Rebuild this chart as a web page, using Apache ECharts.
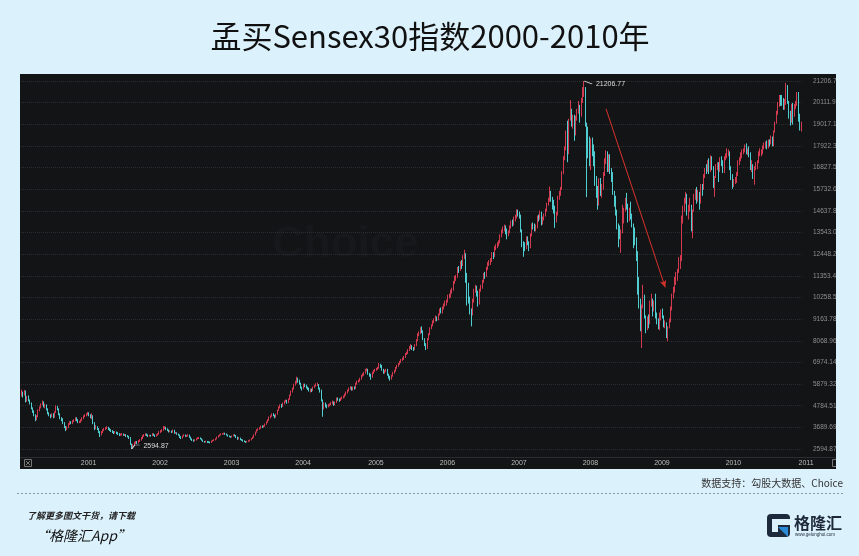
<!DOCTYPE html>
<html><head><meta charset="utf-8">
<script src="https://cdn.jsdelivr.net/npm/echarts@6/dist/echarts.min.js"></script>
<style>html,body{margin:0;padding:0;background:#dbf1fc;}#c{width:859px;height:556px;}</style>
</head><body><div id="c"></div>
<script>
// Weekly candles [open, close, low, high]
const d2000 = [[5300,5450,5250,5600],[5450,5350,5200,5500],[5350,5500,5300,5580],[5500,5000,4950,5550],[5000,5200,4980,5280],[5200,5050,5000,5300],[5050,4900,4850,5100],[4900,4650,4600,4950],[4650,4500,4420,4700],[4500,4300,4250,4550],[4300,4150,4000,4350],[4150,4250,4050,4300],[4250,4550,4200,4600],[4550,4700,4500,4750],[4700,4850,4650,4900],[4850,4950,4800,5050],[4950,4750,4700,5000],[4750,4800,4650,4880],[4800,4600,4550,4850],[4600,4400,4350,4650],[4400,4300,4250,4450],[4300,4250,4150,4350],[4250,4350,4200,4400],[4350,4200,4150,4400],[4200,4450,4180,4500],[4450,4700,4420,4800],[4700,4600,4550,4780],[4600,4350,4300,4650],[4350,4150,4100,4400],[4150,4100,4000,4200],[4100,3900,3850,4150],[3900,3700,3650,3950],[3700,3600,3500,3750],[3600,3700,3550,3750],[3700,3850,3650,3900],[3850,3950,3800,4000],[3950,3900,3850,4000],[3900,4000,3850,4050],[4000,4050,3950,4100],[4050,4150,4000,4200],[4150,4050,4000,4200],[4050,3950,3900,4100],[3950,3970,3900,4020]];
const d2001 = [[3970,4050,3920,4100],[4050,4150,4000,4200],[4150,4250,4100,4300],[4250,4300,4200,4350],[4300,4350,4250,4400],[4350,4400,4300,4470],[4400,4300,4250,4450],[4300,4200,4150,4350],[4200,4250,4100,4400],[4250,3900,3850,4300],[3900,3650,3550,3950],[3650,3700,3600,3800],[3700,3600,3550,3750],[3600,3450,3400,3650],[3450,3300,3200,3500],[3300,3450,3280,3500],[3450,3550,3400,3600],[3550,3600,3500,3650],[3600,3650,3550,3700],[3650,3700,3600,3750],[3700,3600,3550,3720],[3600,3550,3500,3650],[3550,3500,3450,3600],[3500,3450,3400,3550],[3450,3400,3350,3500],[3400,3450,3380,3500],[3450,3400,3350,3480],[3400,3350,3300,3450],[3350,3300,3250,3400],[3300,3320,3260,3380],[3320,3350,3280,3400],[3350,3300,3260,3380],[3300,3320,3250,3360],[3320,3250,3200,3350],[3250,3220,3180,3300],[3220,3150,3100,3260],[3150,2850,2800,3200],[2850,2650,2594.87,2870],[2650,2800,2620,2850],[2800,2900,2760,2950],[2900,2950,2850,3000],[2950,2900,2850,3000],[2900,3000,2880,3050],[3000,3050,2950,3100],[3050,3150,3020,3200],[3150,3250,3100,3300],[3250,3300,3200,3350],[3300,3350,3250,3400],[3350,3300,3250,3380],[3300,3250,3200,3330],[3250,3280,3220,3320],[3280,3260,3220,3310]];
const d2002 = [[3260,3350,3240,3400],[3350,3300,3260,3380],[3300,3250,3200,3330],[3250,3300,3220,3340],[3300,3350,3270,3400],[3350,3450,3320,3500],[3450,3500,3400,3550],[3500,3550,3450,3600],[3550,3650,3520,3760],[3650,3700,3600,3750],[3700,3600,3550,3720],[3600,3550,3500,3640],[3550,3470,3430,3580],[3470,3500,3440,3540],[3500,3450,3400,3530],[3450,3550,3420,3580],[3550,3400,3370,3570],[3400,3420,3360,3460],[3420,3350,3310,3440],[3350,3300,3260,3380],[3300,3200,3150,3330],[3200,3150,3100,3240],[3150,3250,3120,3280],[3250,3300,3220,3340],[3300,3250,3210,3330],[3250,3250,3200,3300],[3250,3300,3220,3340],[3300,3200,3160,3320],[3200,3100,3060,3220],[3100,3050,3000,3130],[3050,3000,2960,3080],[3000,3050,2980,3090],[3050,3100,3020,3140],[3100,3150,3080,3190],[3150,3150,3100,3200],[3150,3120,3080,3180],[3120,3050,3020,3140],[3050,2980,2950,3070],[2980,2950,2910,3000],[2950,2980,2920,3020],[2980,2950,2900,3000],[2950,2940,2900,2990],[2940,2920,2880,2970],[2920,2990,2900,3020],[2990,3020,2960,3060],[3020,3050,3000,3090],[3050,3100,3030,3140],[3100,3200,3080,3230],[3200,3250,3170,3290],[3250,3300,3230,3340],[3300,3350,3280,3390],[3350,3370,3320,3400]];
const d2003 = [[3370,3390,3330,3420],[3390,3350,3310,3420],[3350,3300,3270,3380],[3300,3250,3220,3330],[3250,3230,3190,3280],[3230,3200,3160,3250],[3200,3250,3180,3280],[3250,3300,3230,3330],[3300,3280,3230,3340],[3280,3200,3150,3300],[3200,3100,3060,3220],[3100,3150,3080,3190],[3150,3080,3040,3170],[3080,3050,3010,3100],[3050,3000,2960,3080],[3000,2980,2940,3030],[2980,2930,2904,3000],[2930,2980,2920,3010],[2980,3000,2950,3040],[3000,3050,2980,3080],[3050,3120,3030,3150],[3120,3180,3100,3220],[3180,3300,3160,3340],[3300,3450,3280,3480],[3450,3550,3420,3600],[3550,3600,3520,3640],[3600,3650,3570,3700],[3650,3750,3620,3780],[3750,3700,3660,3790],[3700,3750,3680,3800],[3750,3850,3720,3880],[3850,3950,3820,3990],[3950,4050,3920,4100],[4050,4200,4020,4240],[4200,4250,4150,4300],[4250,4350,4220,4400],[4350,4300,4250,4400],[4300,4200,4150,4330],[4200,4350,4180,4380],[4350,4550,4330,4580],[4550,4700,4520,4750],[4700,4800,4650,4850],[4800,4750,4680,4870],[4750,4900,4720,4950],[4900,5000,4860,5050],[5000,5050,4950,5100],[5050,4950,4880,5080],[4950,5100,4920,5150],[5100,5300,5080,5350],[5300,5500,5280,5550],[5500,5650,5450,5700],[5650,5850,5600,5900]];
const d2004 = [[5850,5950,5800,6050],[5950,6150,5900,6250],[6150,6050,5950,6200],[6050,5900,5850,6100],[5900,5700,5650,5950],[5700,5650,5550,5750],[5650,5850,5620,5900],[5850,5800,5720,5900],[5800,5700,5650,5850],[5700,5650,5580,5750],[5650,5550,5500,5700],[5550,5600,5450,5650],[5600,5550,5480,5650],[5550,5700,5520,5750],[5700,5800,5680,5850],[5800,5850,5750,5920],[5850,5850,5780,5950],[5850,5650,5600,5880],[5650,5550,5450,5700],[5550,5050,5000,5600],[5050,4800,4227,5100],[4800,4850,4600,4950],[4850,4800,4700,4950],[4800,4750,4650,4850],[4750,4800,4700,4880],[4800,4850,4750,4900],[4850,4900,4800,4980],[4900,4950,4850,5050],[4950,4850,4780,5000],[4850,4950,4800,5000],[4950,5150,4920,5200],[5150,5100,5030,5200],[5100,5050,4980,5150],[5050,5150,5020,5200],[5150,5200,5100,5250],[5200,5250,5150,5300],[5250,5350,5200,5400],[5350,5450,5300,5500],[5450,5550,5400,5600],[5550,5650,5500,5700],[5650,5700,5600,5780],[5700,5600,5550,5750],[5600,5700,5550,5750],[5700,5650,5600,5760],[5650,5900,5630,5950],[5900,6000,5850,6050],[6000,6050,5950,6100],[6050,6150,6000,6200],[6150,6300,6100,6350],[6300,6350,6250,6420],[6350,6450,6300,6500],[6450,6600,6400,6650],[6600,6600,6520,6680]];
const d2005 = [[6600,6400,6350,6650],[6400,6350,6250,6450],[6350,6250,6100,6400],[6250,6450,6200,6500],[6450,6550,6400,6600],[6550,6600,6500,6650],[6600,6650,6550,6700],[6650,6700,6600,6750],[6700,6850,6650,6950],[6850,6800,6700,6900],[6800,6600,6550,6850],[6600,6450,6400,6650],[6450,6550,6400,6600],[6550,6600,6480,6650],[6600,6350,6300,6650],[6350,6250,6150,6400],[6250,6150,6050,6300],[6150,6300,6100,6350],[6300,6450,6250,6500],[6450,6550,6400,6600],[6550,6700,6500,6750],[6700,6800,6650,6850],[6800,6900,6750,6950],[6900,7000,6850,7050],[7000,7100,6950,7150],[7100,7150,7050,7220],[7150,7250,7100,7300],[7250,7400,7200,7450],[7400,7450,7350,7520],[7450,7600,7400,7650],[7600,7750,7550,7800],[7750,7800,7650,7900],[7800,7700,7600,7850],[7700,7650,7550,7750],[7650,7850,7600,7900],[7850,8100,7800,8150],[8100,8400,8050,8450],[8400,8450,8300,8550],[8450,8650,8400,8750],[8650,8550,8450,8800],[8550,8150,8100,8600],[8150,7900,7800,8200],[7900,7700,7600,7950],[7700,8150,7650,8200],[8150,8400,8100,8450],[8400,8700,8350,8750],[8700,8850,8650,8900],[8850,9000,8800,9100],[9000,9100,8950,9200],[9100,9250,9050,9350],[9250,9150,9050,9300],[9150,9400,9100,9450]];
const d2006 = [[9400,9650,9350,9700],[9650,9550,9450,9750],[9550,9700,9450,9800],[9700,9900,9650,9950],[9900,9950,9800,10100],[9950,10050,9850,10150],[10050,10300,10000,10400],[10300,10350,10200,10450],[10350,10550,10250,10650],[10550,10650,10450,10750],[10650,11000,10600,11100],[11000,11250,10950,11350],[11250,11300,11100,11400],[11300,11700,11250,11800],[11700,11650,11500,11850],[11650,12000,11600,12100],[12000,11900,11700,12150],[11900,12300,11850,12400],[12300,12450,12200,12671],[12450,11400,11000,12500],[11400,10800,9850,11500],[10800,10100,9950,11000],[10100,9550,9400,10300],[9550,9400,8799,9700],[9400,10050,9350,10200],[10050,10600,10000,10700],[10600,10750,10500,10900],[10750,10500,10300,10850],[10500,9950,9800,10600],[9950,10650,9900,10700],[10650,10800,10550,10900],[10800,11050,10700,11150],[11050,11400,11000,11500],[11400,11350,11200,11550],[11350,11700,11300,11800],[11700,11950,11650,12050],[11950,12050,11850,12150],[12050,12100,11900,12250],[12100,12450,12050,12550],[12450,12350,12200,12550],[12350,12750,12300,12850],[12750,12850,12650,12950],[12850,12950,12750,13050],[12950,13050,12850,13150],[13050,13350,13000,13450],[13350,13550,13300,13700],[13550,13750,13500,13850],[13750,13800,13600,13950],[13800,13650,13450,13900],[13650,13400,13200,13750],[13400,13550,13350,13650],[13550,13800,13500,13900]];
const d2007 = [[13800,14050,13750,14150],[14050,14000,13850,14200],[14000,14200,13900,14350],[14200,14300,14100,14450],[14300,14650,14250,14724],[14650,14450,14350,14700],[14450,14400,14250,14600],[14400,13650,13550,14450],[13650,12900,12800,13700],[12900,12850,12316,13100],[12850,12750,12600,13050],[12750,13250,12700,13350],[13250,13050,12900,13350],[13050,12800,12600,13100],[12800,13400,12750,13500],[13400,13900,13350,14000],[13900,13850,13700,14050],[13850,13750,13600,14000],[13750,13800,13600,13950],[13800,14300,13750,14400],[14300,14250,14100,14450],[14250,14550,14200,14650],[14550,14000,13900,14600],[14000,14250,13950,14350],[14250,14400,14150,14500],[14400,14650,14350,14750],[14650,14950,14600,15050],[14950,15200,14900,15300],[15200,15550,15100,15868],[15550,15250,15100,15650],[15250,14900,14700,15350],[14900,14850,14500,15200],[14850,14150,13779,14900],[14150,14450,14050,14600],[14450,15300,14400,15400],[15300,15550,15200,15650],[15550,15750,15400,15850],[15750,16550,15700,16650],[16550,17300,16500,17400],[17300,17800,17200,17900],[17800,18400,17700,18700],[18400,17550,17100,19200],[17550,19250,17500,19300],[19250,19700,19200,20238],[19700,19050,18900,19800],[19050,19400,18800,19500],[19400,18500,18182,19500],[18500,19350,18450,19450],[19350,19650,19200,19800],[19650,19950,19550,20200],[19950,19450,19100,20000],[19450,20200,19400,20350]];
const d2008 = [[20200,20650,20100,20900],[20650,20800,20400,21206.77],[20800,19000,18900,20900],[19000,18350,15332,19100],[18350,18250,17300,18900],[18250,17100,16900,18400],[17100,18100,16700,18300],[18100,17800,17400,18350],[17800,17580,16900,18000],[17580,16150,15900,17650],[16150,15800,15300,16400],[15800,14950,14700,15900],[14950,16100,14900,16300],[16100,15600,15400,16300],[15600,15800,15300,16000],[15800,16500,15700,16600],[16500,17100,16400,17300],[17100,17600,17000,17700],[17600,16700,16600,17650],[16700,17450,16600,17500],[17450,16650,16500,17500],[16650,16400,16100,16800],[16400,15550,15450,16600],[15550,15200,14850,15650],[15200,14550,14400,15400],[14550,13800,13700,14700],[13800,13500,12800,14000],[13500,13450,13200,13900],[13450,13600,12514,13700],[13600,14400,13500,14950],[14400,14650,14000,14800],[14650,15150,14600,15300],[15150,14900,14700,15550],[14900,14400,14050,15000],[14400,14550,14100,14800],[14550,14350,14200,15100],[14350,14000,13800,14500],[14000,13300,12750,14000],[13300,13200,12900,13800],[13200,12500,12100,13300],[12500,10550,10400,12600],[10550,10000,9700,11300],[10000,8700,8550,10200],[8700,9800,7697,9900],[9800,10300,9700,10900],[10300,9300,9200,10400],[9300,8900,8450,9350],[8900,9100,8600,9300],[9100,8950,8700,9400],[8950,10000,8900,10100],[10000,10100,9800,10450],[10100,9350,9300,10200]];
const d2009 = [[9650,9900,9550,10100],[9900,9400,9200,10450],[9400,9050,8900,9500],[9050,8700,8650,9200],[8700,9400,8600,9500],[9400,9450,9100,9650],[9450,9300,9200,9700],[9300,8850,8750,9350],[8850,8900,8700,9100],[8900,8350,8200,9000],[8350,8750,8047,8800],[8750,9050,8700,9200],[9050,9700,9000,9800],[9700,10350,9600,10450],[10350,10600,10200,10800],[10600,11000,10500,11300],[11000,11350,10900,11550],[11350,11400,11100,11700],[11400,12000,11500,12300],[12000,12200,11700,12400],[12200,14250,12100,14400],[14250,14650,14000,14900],[14650,15100,14600,15300],[15100,15450,15000,15600],[15450,14500,14400,15500],[14500,14800,14200,14950],[14800,14900,14600,15300],[14900,13700,13600,14950],[13700,14650,13250,14700],[14650,15400,14600,15500],[15400,15650,15200,15750],[15650,15150,15000,15850],[15150,15500,15100,15700],[15500,15050,14700,15600],[15050,15900,15000,16000],[15900,15700,15400,16000],[15700,16300,15700,16500],[16300,16750,16300,16800],[16750,16700,16500,17000],[16700,17150,16600,17200],[17150,16650,16500,17300],[16650,17250,16600,17450],[17250,16800,16700,17400],[16800,15900,15800,16900],[15900,16350,15350,16400],[16350,16850,16300,17000],[16850,16900,16700,17100],[16900,16650,16100,17100],[16650,17250,16600,17350],[17250,17100,16900,17400],[17100,16600,16550,17200],[16600,17250,16550,17400]];
const d2010 = [[17250,17450,17200,17550],[17450,17550,17300,17800],[17550,17600,17400,17750],[17600,16800,16700,17650],[16800,16350,16200,16900],[16350,15950,15750,16500],[15950,16150,15850,16250],[16150,16200,16000,16350],[16200,16450,16050,16600],[16450,17150,16400,17200],[17150,17200,16950,17350],[17200,17550,17150,17600],[17550,17650,17300,17750],[17650,17700,17500,17800],[17700,17950,17600,18000],[17950,17650,17500,18050],[17650,17700,17450,17800],[17700,17550,17350,17900],[17550,16750,16700,17600],[16750,16950,16600,17200],[16950,16450,16250,17000],[16450,16850,15960,16900],[16850,16900,16700,17100],[16900,17100,16750,17200],[17100,17550,17050,17650],[17550,17600,17400,17800],[17600,17650,17400,17750],[17650,17850,17500,17950],[17850,17950,17750,18100],[17950,18000,17800,18150],[18000,17850,17750,18200],[17850,18150,17800,18250],[18150,18050,17900,18250],[18050,18300,18000,18450],[18300,17950,17900,18400],[17950,18650,17900,18700],[18650,19100,18600,19150],[19100,19600,19050,19700],[19600,20050,19500,20150],[20050,20450,19900,20500],[20450,20250,19950,20500],[20250,20150,19950,20500],[20150,19950,19750,20350],[19950,20050,19750,20300],[20050,20900,20000,21108],[20900,20150,20050,21000],[20150,19600,19300,20200],[19600,19150,18950,19700],[19150,19950,19100,20050],[19950,19500,19000,20100],[19500,19900,19400,20050],[19900,20050,19800,20200],[20050,20500,19950,20650]];
const d2011 = [[20500,19250,19150,20650],[19250,18850,18700,19550],[18850,19000,18650,19150]];

const years = [2000,2001,2002,2003,2004,2005,2006,2007,2008,2009,2010,2011];
const yearData = [d2000,d2001,d2002,d2003,d2004,d2005,d2006,d2007,d2008,d2009,d2010,d2011];
const firstWeek = [10,1,1,1,1,1,1,1,1,1,1,1];
const yearTickLabels = ['2001','2002','2003','2004','2005','2006','2007','2008','2009','2010','2011'];
const yMin = 2594.87, yMax = 21206.77, yStep = 1094.8176;
const arrowFrom = ['2008W18', 19800];
const arrowTo = ['2009W9', 10770];

const categories = [];
const ohlc = [];
years.forEach((y, k) => {
  yearData[k].forEach((v, i) => { categories.push(y + 'W' + (firstWeek[k] + i)); ohlc.push(v); });
});

const BG = '#dbf1fc';
const chart = echarts.init(document.getElementById('c'), null, {renderer: 'canvas'});
chart.setOption({
  animation: false,
  backgroundColor: BG,
  grid: {left: 21, right: 57, top: 81, bottom: 107},
  xAxis: {
    type: 'category', data: categories, boundaryGap: true,
    axisLine: {show: false}, axisTick: {show: false}, splitLine: {show: false},
    offset: 8,
    axisLabel: {
      margin: 3, color: '#bdbdbd', fontSize: 7, fontFamily: 'Liberation Sans', align: 'left',
      interval: (idx, val) => val.endsWith('W1') && yearTickLabels.indexOf(val.slice(0, 4)) >= 0,
      formatter: val => val.slice(0, 4)
    }
  },
  yAxis: {
    type: 'value', position: 'right',
    min: yMin, max: yMax, interval: yStep,
    axisLine: {show: false}, axisTick: {show: false},
    axisLabel: {margin: 11, color: '#8f8f8f', fontSize: 6.5, fontFamily: 'Liberation Sans',
      formatter: v => (v < yMax && yMax - v < 0.01) ? '' : v.toFixed(2)},
    splitLine: {show: true, lineStyle: {color: '#2b2d32', type: 'dotted', width: 1}}
  },
  series: [{
    type: 'candlestick', data: ohlc,
    itemStyle: {color: '#d23a50', color0: '#4fcdd0', borderColor: '#d23a50', borderColor0: '#4fcdd0', borderWidth: 1},
    markPoint: {
      silent: true,
      data: [
        {type: 'max', valueDim: 'highest', symbol: 'path://M0 0L8 3', symbolSize: [8, 3], symbolOffset: [4, 1.5],
          itemStyle: {color: 'rgba(0,0,0,0)', borderColor: '#d0d0d0', borderWidth: 1},
          label: {show: true, position: 'right', distance: 3, offset: [0, 2], color: '#dcdcdc', fontSize: 7,
            fontFamily: 'Liberation Sans', formatter: p => p.value.toFixed(2)}},
        {type: 'min', valueDim: 'lowest', symbol: 'path://M0 4L3 0L8 0', symbolSize: [8, 4], symbolOffset: [4, -2],
          itemStyle: {color: 'rgba(0,0,0,0)', borderColor: '#d0d0d0', borderWidth: 1},
          label: {show: true, position: 'right', distance: 3, offset: [0, -1], color: '#dcdcdc', fontSize: 7,
            fontFamily: 'Liberation Sans', formatter: p => p.value.toFixed(2)}}
      ]
    },
    markLine: {
      silent: true, symbol: ['none', 'arrow'], symbolSize: [5, 7],
      lineStyle: {color: '#d9322b', width: 1, type: 'solid'},
      label: {show: false},
      data: [[{coord: arrowFrom}, {coord: arrowTo}]]
    }
  }],
  graphic: [
    {type: 'rect', z: -10, silent: true, shape: {x: 20, y: 74, width: 816, height: 395}, style: {fill: '#131416'}},
    {type: 'text', z: -9, silent: true, style: {text: 'Choice', x: 272, y: 245, fill: '#17181b',
      font: 'bold 44px "Liberation Sans"', verticalAlign: 'middle', textVerticalAlign: 'middle'}},
    {type: 'line', z: 5, silent: true, shape: {x1: 20, y1: 457.5, x2: 836, y2: 457.5}, style: {stroke: '#2a2c31', lineWidth: 1}},
    {type: 'rect', z: 5, silent: true, shape: {x: 24.5, y: 459.5, width: 7, height: 7}, style: {fill: 'none', stroke: '#777', lineWidth: 1}},
    {type: 'line', z: 5, silent: true, shape: {x1: 26, y1: 461, x2: 30, y2: 465}, style: {stroke: '#777', lineWidth: 1}},
    {type: 'line', z: 5, silent: true, shape: {x1: 30, y1: 461, x2: 26, y2: 465}, style: {stroke: '#777', lineWidth: 1}},
    {type: 'rect', z: 5, silent: true, shape: {x: 832.5, y: 459.5, width: 7, height: 7}, style: {fill: 'none', stroke: '#777', lineWidth: 1}},
    {type: 'rect', z: 100, silent: true, shape: {x: 836, y: 70, width: 23, height: 402}, style: {fill: BG}},
    {type: 'text', z: 100, silent: true, style: {text: '孟买Sensex30指数2000-2010年', x: 430, y: 36,
      font: '31px "Noto Sans CJK SC"', fill: '#111111', align: 'center', textAlign: 'center', verticalAlign: 'middle', textVerticalAlign: 'middle'}},
    {type: 'text', z: 100, silent: true, style: {text: '数据支持：勾股大数据、Choice', x: 843, y: 483,
      font: '10px "Noto Sans CJK SC"', fill: '#333333', align: 'right', textAlign: 'right', verticalAlign: 'middle', textVerticalAlign: 'middle'}},
    {type: 'line', z: 100, silent: true, shape: {x1: 17, y1: 493.5, x2: 843, y2: 493.5}, style: {stroke: '#8a9aa3', lineWidth: 1, lineDash: [2, 2]}},
    {type: 'text', z: 100, silent: true, style: {text: '了解更多图文干货，请下载', x: 27, y: 516,
      font: 'italic bold 9px "Noto Sans CJK SC"', fill: '#222222', verticalAlign: 'middle', textVerticalAlign: 'middle'}},
    {type: 'text', z: 100, silent: true, style: {text: '“格隆汇App”', x: 35, y: 536,
      font: 'italic 14px "Noto Sans CJK SC"', fill: '#111111', verticalAlign: 'middle', textVerticalAlign: 'middle'}},
    {type: 'rect', z: 100, silent: true, shape: {x: 767, y: 514, width: 23, height: 23, r: 4}, style: {fill: '#1d2a3c'}},
    {type: 'rect', z: 101, silent: true, shape: {x: 772, y: 519, width: 18, height: 6}, style: {fill: BG}},
    {type: 'rect', z: 101, silent: true, shape: {x: 772, y: 525, width: 6, height: 7}, style: {fill: BG}},
    {type: 'polygon', z: 102, silent: true, shape: {points: [[778, 527], [788, 527], [788, 537]]}, style: {fill: '#2b8ad6'}},
    {type: 'text', z: 100, silent: true, style: {text: '格隆汇', x: 794, y: 523,
      font: 'bold 16px "Noto Sans CJK SC"', fill: '#1d2838', verticalAlign: 'middle', textVerticalAlign: 'middle'}},
    {type: 'text', z: 100, silent: true, style: {text: 'www.gelonghui.com', x: 795, y: 535,
      font: '4.5px "Liberation Sans"', fill: '#1d2838', verticalAlign: 'middle', textVerticalAlign: 'middle'}}
  ]
});
</script></body></html>
